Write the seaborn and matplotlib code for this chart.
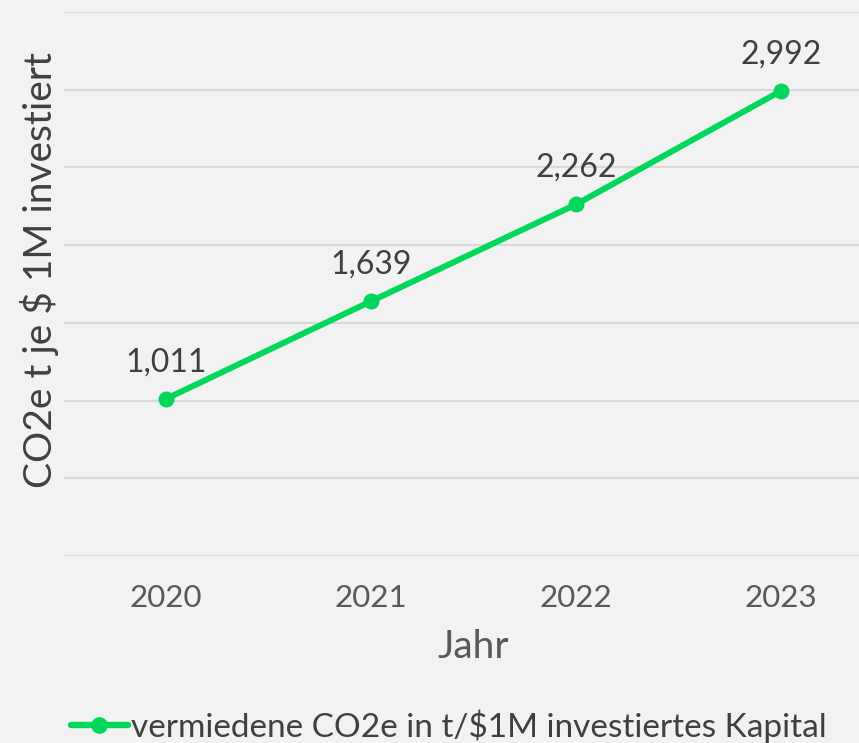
import matplotlib
matplotlib.use("Agg")
import matplotlib.pyplot as plt
from matplotlib.lines import Line2D
import seaborn as sns
import pandas as pd

# chart data
years = ["2020", "2021", "2022", "2023"]
avoided_co2 = [1011, 1639, 2262, 2992]
series_name = "vermiedene CO2e in t/$1M investiertes Kapital"

df = pd.DataFrame({"Jahr": years, "CO2e": avoided_co2})

sns.set_style("whitegrid")
plt.rcParams["font.family"] = ["Lato", "DejaVu Sans"]

green = "#00d75b"
bg = "#f2f2f2"

fig = plt.figure(figsize=(8.59, 7.43), dpi=100, facecolor=bg)
ax = fig.add_axes([63.5 / 859, 1 - 556 / 743, 820 / 859, 544 / 743])
ax.set_facecolor(bg)

sns.lineplot(data=df, x="Jahr", y="CO2e", ax=ax, color=green, linewidth=4.3,
             marker="o", markersize=11.5, markeredgewidth=0, legend=False)

ax.set_xlim(-0.5, 3.5)
ax.set_ylim(0, 3500)
ax.set_yticks(range(0, 3501, 500))
ax.set_yticklabels([])
ax.grid(axis="y", color="#d9d9d9", linewidth=1.5)
ax.grid(axis="x", visible=False)
for s in ax.spines.values():
    s.set_visible(False)
ax.tick_params(axis="both", length=0)
ax.tick_params(axis="x", labelsize=22.5, labelcolor="#595959", pad=20)

ax.set_xlabel("Jahr", fontsize=28, color="#595959", va="center")
ax.xaxis.set_label_coords(0.5, (556 - 647) / 544)
ax.set_ylabel("CO2e t je $ 1M investiert", fontsize=28, color="#404040", va="center")
ax.yaxis.set_label_coords((40 - 63.5) / 820, (556 - 270) / 544)

# value labels above points
for i, v in enumerate(avoided_co2):
    ax.annotate(f"{v:,}", (i, v), xytext=(0, 26.5), textcoords="offset points",
                ha="center", va="center", fontsize=23, color="#404040")

handle = Line2D([], [], color=green, linewidth=4.6, marker="o", markersize=12,
                markeredgewidth=0)
fig.legend([handle], [series_name], loc="center",
           bbox_to_anchor=(449 / 859, 1 - 726 / 743),
           frameon=False, fontsize=24, labelcolor="#404040", handlelength=1.7,
           handletextpad=0.1, borderpad=0)

fig.savefig("out.png", dpi=100, facecolor=bg)
